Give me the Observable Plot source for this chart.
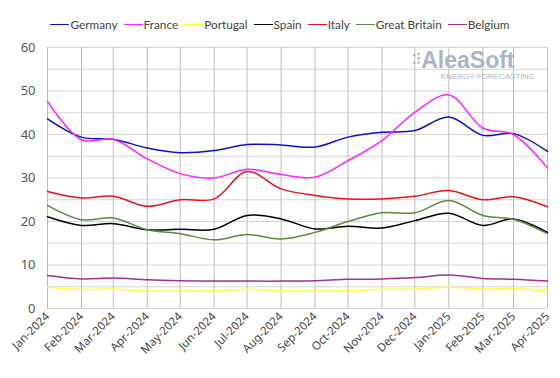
<!DOCTYPE html>
<html><head><meta charset="utf-8">
<script src="https://cdn.jsdelivr.net/npm/d3@7"></script>
<script src="https://cdn.jsdelivr.net/npm/@observablehq/plot@0.6"></script>
<style>
body{margin:0;background:#fff;font-family:"Noto Sans",sans-serif;}
#wrap{width:560px;height:378px;position:relative;overflow:hidden;}
#legend{height:36px;display:flex;justify-content:center;align-items:flex-end;gap:6px;font-family:Lato,sans-serif;font-size:11.8px;color:#444;box-sizing:border-box;padding-bottom:4px;padding-left:0px;}
#legend span{display:flex;align-items:center;white-space:nowrap;}
#legend i{display:inline-block;width:19px;height:0;border-top:1.6px solid;margin-right:1px;}
</style></head><body>
<div id="wrap"><div id="legend"></div><div id="chart"></div></div>
<script>
const months = ["2024-01-01","2024-02-01","2024-03-01","2024-04-01","2024-05-01","2024-06-01","2024-07-01","2024-08-01","2024-09-01","2024-10-01","2024-11-01","2024-12-01","2025-01-01","2025-02-01","2025-03-01","2025-04-01"];
const germany  = [43.6, 39.4, 38.9, 36.9, 35.8, 36.3, 37.7, 37.6, 37.1, 39.4, 40.5, 40.9, 44.0, 39.8, 40.2, 36.1];
const france   = [47.6, 38.8, 38.9, 34.4, 31.0, 30.0, 32.0, 30.8, 30.2, 34.0, 38.6, 45.1, 49.1, 41.5, 40.0, 32.3];
const portugal = [4.9, 4.4, 4.5, 4.0, 4.0, 4.1, 4.4, 4.1, 4.0, 4.1, 4.4, 4.5, 4.9, 4.5, 4.6, 4.0];
const spain    = [21.1, 19.1, 19.5, 18.1, 18.2, 18.2, 21.4, 20.6, 18.3, 18.9, 18.5, 20.2, 21.9, 19.1, 20.6, 17.5];
const italy    = [26.9, 25.4, 25.8, 23.5, 25.0, 25.2, 31.5, 27.5, 26.0, 25.2, 25.2, 25.8, 27.1, 25.0, 25.7, 23.4];
const greatBritain = [23.7, 20.4, 20.8, 18.1, 17.2, 15.8, 17.0, 16.0, 17.5, 20.0, 22.0, 22.0, 24.8, 21.4, 20.5, 17.2];
const belgium  = [7.6, 6.8, 7.0, 6.6, 6.4, 6.3, 6.3, 6.3, 6.4, 6.7, 6.8, 7.1, 7.7, 6.9, 6.7, 6.3];

const seriesNames = ["Germany","France","Portugal","Spain","Italy","Great Britain","Belgium"];
const seriesValues = [germany, france, portugal, spain, italy, greatBritain, belgium];
const seriesColors = ["#1010c8","#ff22ff","#ffff33","#000000","#e8141c","#5b8a3c","#a0309a"];

const dates = months.map(d => new Date(d));
const rows = [];
seriesNames.forEach((name, i) => {
  seriesValues[i].forEach((v, j) => rows.push({country: name, date: dates[j], value: v}));
});

const legend = document.getElementById("legend");
seriesNames.forEach((n, i) => {
  const s = document.createElement("span");
  s.innerHTML = `<i style="border-color:${seriesColors[i]}"></i>${n}`;
  legend.appendChild(s);
});

const chart = Plot.plot({
  width: 560, height: 342,
  marginTop: 11, marginBottom: 70, marginLeft: 47, marginRight: 13,
  style: {fontFamily: "Noto Sans, sans-serif", color: "#444"},
  x: {type: "utc", domain: [dates[0], dates[dates.length-1]]},
  y: {domain: [0, 60]},
  color: {domain: seriesNames, range: seriesColors},
  marks: [
    Plot.ruleY(d3.range(0, 61, 5), {stroke: "#d4d4d4", strokeWidth: 1}),
    Plot.ruleX(dates, {y1: 0, y2: 60, stroke: "#bcbcbc", strokeWidth: 1}),
    Plot.axisY({ticks: d3.range(0, 61, 10), tickSize: 0, tickPadding: 12, fontSize: 13, label: null, fill: "#555"}),
    Plot.axisX({ticks: dates, tickFormat: d3.utcFormat("%b-%Y"), tickRotate: -45, tickSize: 0, tickPadding: 6, fontSize: 11.5, label: null, fill: "#444"}),
    Plot.text(["AleaSoft"], {frameAnchor: "top-right", dx: -33, dy: 4, fontSize: 23, fontFamily: "Liberation Sans, Arial, sans-serif", fontWeight: "bold", fill: "#aab5c9", textAnchor: "end", lineAnchor: "top"}),
    Plot.text(["ENERGY FORECASTING"], {frameAnchor: "top-right", dx: -13, dy: 26, fontSize: 8, fontFamily: "Liberation Sans, Arial, sans-serif", fill: "#aab5c9", textAnchor: "end", lineAnchor: "top"}),
    Plot.text(["⁚⁝"], {frameAnchor: "top-right", dx: -127, dy: 6, fontSize: 15, fontWeight: "bold", fill: "#aab5c9", textAnchor: "end", lineAnchor: "top"}),
    Plot.line(rows, {x: "date", y: "value", z: "country", stroke: "country", strokeWidth: 1.5, curve: "catmull-rom"})
  ]
});
document.getElementById("chart").appendChild(chart);
</script>
</body></html>
